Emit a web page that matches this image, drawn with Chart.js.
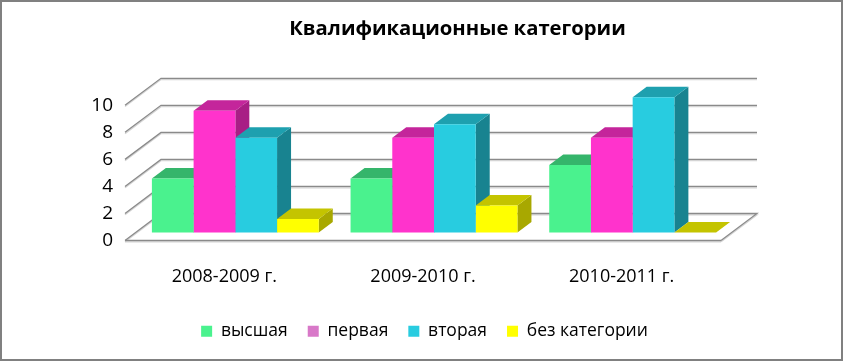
<!DOCTYPE html>
<html><head><meta charset="utf-8">
<script src="https://cdn.jsdelivr.net/npm/chart.js@4"></script>
<style>html,body{margin:0;padding:0;background:#fff}#w{width:843px;height:361px;position:relative}</style>
</head><body><div id="w"><canvas id="c" width="843" height="361"></canvas></div>
<script>
const titleText = 'Квалификационные категории';
const categories = ['2008-2009 г.', '2009-2010 г.', '2010-2011 г.'];
const seriesNames = ['высшая', 'первая', 'вторая', 'без категории'];
const vysshaya = [4, 4, 5];
const pervaya = [9, 7, 7];
const vtoraya = [7, 8, 10];
const bezKategorii = [1, 2, 0];
const frontColors = ['#4AF28E', '#FF33CC', '#28CCE0', '#FFFF00'];
const topColors = ['#35B56B', '#C4259B', '#1EA0AF', '#C4C400'];
const sideColors = ['#2A9557', '#A81E85', '#188390', '#A8A800'];
const legendColors = ['#4AF28E', '#D878C8', '#28CCE0', '#FFFF00'];
const allValues = [vysshaya, pervaya, vtoraya, bezKategorii];
const font = '"Open Sans"';
const wallX = 36, wallY = 27, shiftX = 11, shiftY = 8, depthX = 14, depthY = 10.5;

function poly(ctx, pts, fill) {
  ctx.beginPath();
  pts.forEach((p, i) => i ? ctx.lineTo(p[0], p[1]) : ctx.moveTo(p[0], p[1]));
  ctx.closePath();
  ctx.fillStyle = fill;
  ctx.fill();
}
function gridPath(ctx, pts, color, width) {
  ctx.beginPath();
  pts.forEach((p, i) => i ? ctx.lineTo(p[0], p[1]) : ctx.moveTo(p[0], p[1]));
  ctx.strokeStyle = color;
  ctx.lineWidth = width;
  ctx.stroke();
}
const scene3d = {
  id: 'scene3d',
  beforeDraw(chart) {
    chart.titleBlock.left += 36; chart.titleBlock.right += 36;
    chart.legend.left += 3; chart.legend.right += 3;
  },
  beforeDatasetsDraw(chart) {
    const ctx = chart.ctx, a = chart.chartArea, ys = chart.scales.y;
    ctx.save();
    const rows = ys.ticks.map(t => ys.getPixelForValue(t.value));
    [[1.3, '#D4D4D4'], [0, '#8A8A8A']].forEach(([off, col]) => {
      rows.forEach((y, i) => {
        const isFloor = ys.ticks[i].value === 0;
        if (isFloor) {
          gridPath(ctx, [[a.left, y + off], [a.right, y + off]], col, 1.3);
          gridPath(ctx, [[a.left, y + off], [a.left + wallX, y - wallY + off], [a.right + wallX, y - wallY + off], [a.right, y + off]], col, 1.3);
        } else {
          gridPath(ctx, [[a.left, y + off], [a.left + wallX, y - wallY + off], [a.right + wallX, y - wallY + off]], col, 1.3);
        }
      });
    });
    ctx.restore();
    ctx.save();
    ctx.translate(shiftX, -shiftY);
    categories.forEach((_, j) => {
      allValues.forEach((_, i) => {
        const b = chart.getDatasetMeta(i).data[j];
        const l = b.x - b.width / 2, r = b.x + b.width / 2, t = b.y, bt = b.base;
        poly(ctx, [[r, t], [r + depthX, t - depthY], [r + depthX, bt - depthY], [r, bt]], sideColors[i]);
        poly(ctx, [[l, t], [l + depthX, t - depthY], [r + depthX, t - depthY], [r, t]], topColors[i]);
      });
    });
  },
  afterDatasetsDraw(chart) {
    chart.ctx.restore();
    const ctx = chart.ctx;
    ctx.save();
    ctx.strokeStyle = '#808080';
    ctx.lineWidth = 2;
    ctx.strokeRect(1, 1, 841, 359);
    ctx.restore();
  }
};
new Chart(document.getElementById('c'), {
  type: 'bar',
  data: {
    labels: categories,
    datasets: seriesNames.map((n, i) => ({
      label: n, data: allValues[i], backgroundColor: frontColors[i], borderWidth: 0,
      categoryPercentage: 0.84, barPercentage: 1, clip: false
    }))
  },
  options: {
    responsive: false, animation: false,
    layout: { padding: { left: 0, right: 0, top: 17, bottom: 11 } },
    plugins: {
      tooltip: { enabled: false },
      title: { display: true, text: titleText, color: '#000',
        font: { family: font, size: 20.25, weight: 'bold' }, padding: { top: 0, bottom: 64 } },
      legend: { position: 'bottom', align: 'center',
        labels: { color: '#000', font: { family: font, size: 17.5 }, boxWidth: 11, boxHeight: 11, padding: 20,
          generateLabels: () => seriesNames.map((n, i) => ({ text: n, fillStyle: legendColors[i], lineWidth: 0, strokeStyle: 'transparent', datasetIndex: i })) } }
    },
    scales: {
      x: { grid: { display: false }, border: { display: false },
        afterFit(s) { s.height = 62; },
        ticks: { color: '#000', font: { family: font, size: 18 }, padding: 18, maxRotation: 0 } },
      y: { min: 0, max: 10, grid: { display: false }, border: { display: false },
        afterFit(s) { s.width = 125; },
        ticks: { stepSize: 2, autoSkip: false, color: '#000', font: { family: font, size: 19 }, padding: 4 } },
      gap: { type: 'linear', position: 'right', grid: { display: false }, border: { display: false },
        afterFit(s) { s.width = 122; },
        ticks: { display: false } }
    }
  },
  plugins: [scene3d]
});
</script></body></html>
